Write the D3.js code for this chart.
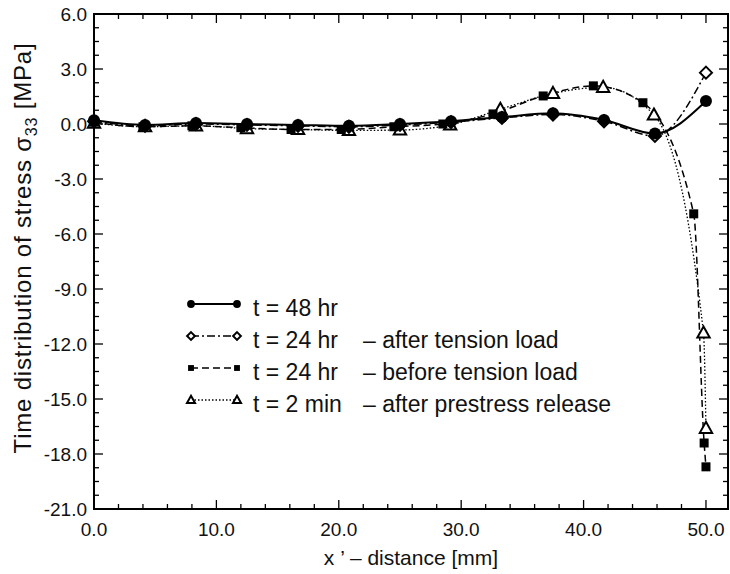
<!DOCTYPE html>
<html>
<head>
<meta charset="utf-8">
<script src="https://cdn.jsdelivr.net/npm/d3@7"></script>
<style>
  body { margin: 0; background: #fff; }
  svg { display: block; }
  text { font-family: "Liberation Sans", Arial, Helvetica, sans-serif; fill: #111; }
</style>
</head>
<body>
<svg id="chart" width="730" height="574"></svg>
<script>
// Axis ticks
const xMajorTicks = [0, 10, 20, 30, 40, 50];
const xTickLabels = ["0.0", "10.0", "20.0", "30.0", "40.0", "50.0"];
const yMajorTicks = [6, 3, 0, -3, -6, -9, -12, -15, -18, -21];
const yTickLabels = ["6.0", "3.0", "0.0", "-3.0", "-6.0", "-9.0", "-12.0", "-15.0", "-18.0", "-21.0"];

// Legend text
const seriesTimes = ["t = 48 hr", "t = 24 hr", "t = 24 hr", "t = 2 min"];
const seriesNotes = ["", "\u2013 after tension load", "\u2013 before tension load", "\u2013 after prestress release"];

// t = 48 hr
const x48h = [0, 4.17, 8.33, 12.5, 16.67, 20.83, 25.0, 29.17, 33.33, 37.5, 41.67, 45.83, 50.0];
const s48h = [0.2, -0.05, 0.05, 0.0, -0.05, -0.1, 0.0, 0.15, 0.38, 0.58, 0.22, -0.52, 1.25];

// t = 24 hr, after tension load
const x24a = [0, 4.17, 8.33, 12.5, 16.67, 20.83, 25.0, 29.17, 33.33, 37.5, 41.67, 45.83, 50.0];
const s24a = [0.15, -0.1, 0.0, -0.05, -0.1, -0.15, -0.05, 0.1, 0.33, 0.52, 0.15, -0.65, 2.8];

// t = 24 hr, before tension load
const x24b = [0, 4.0, 8.0, 12.0, 16.1, 20.2, 24.5, 28.5, 32.6, 36.7, 40.8, 44.85, 49.0, 49.85, 50.0];
const s24b = [0.1, -0.15, -0.1, -0.2, -0.3, -0.3, -0.15, 0.0, 0.55, 1.53, 2.08, 1.16, -4.9, -17.4, -18.7];

// t = 2 min, after prestress release
const x2m = [0, 4.17, 8.33, 12.5, 16.67, 20.83, 25.0, 29.1, 33.2, 37.5, 41.6, 45.75, 49.8, 50.0];
const s2m = [0.05, -0.15, -0.1, -0.25, -0.3, -0.35, -0.33, -0.05, 0.8, 1.67, 2.0, 0.49, -11.4, -16.6];

const svg = d3.select("#chart");
const plotLeft = 94, plotRight = 728, plotTop = 14, plotBottom = 509;

const x = d3.scaleLinear().domain([0, 51.8]).range([plotLeft, plotRight]);
const y = d3.scaleLinear().domain([-21, 6]).range([plotBottom, plotTop]);

// Frame
svg.append("rect")
  .attr("x", plotLeft).attr("y", plotTop)
  .attr("width", plotRight - plotLeft).attr("height", plotBottom - plotTop)
  .attr("fill", "none").attr("stroke", "#000").attr("stroke-width", 2);

// Inward ticks on all four sides
const xMinor = d3.range(0, 51.8, 2).filter(v => v % 10 !== 0);
const yMinor = d3.range(-21, 6.01, 0.75).filter(v => Math.abs(v % 3) > 1e-6);
const tickG = svg.append("g").attr("stroke", "#000").attr("stroke-width", 1.3);

function xTicks(vals, len) {
  vals.forEach(v => {
    tickG.append("line").attr("x1", x(v)).attr("x2", x(v)).attr("y1", plotBottom).attr("y2", plotBottom - len);
    tickG.append("line").attr("x1", x(v)).attr("x2", x(v)).attr("y1", plotTop).attr("y2", plotTop + len);
  });
}
function yTicks(vals, len) {
  vals.forEach(v => {
    tickG.append("line").attr("y1", y(v)).attr("y2", y(v)).attr("x1", plotLeft).attr("x2", plotLeft + len);
    tickG.append("line").attr("y1", y(v)).attr("y2", y(v)).attr("x1", plotRight).attr("x2", plotRight - len);
  });
}
xTicks(xMajorTicks, 9);
xTicks(xMinor, 5);
yTicks(yMajorTicks, 9);
yTicks(yMinor, 5);

// Tick labels
svg.append("g").selectAll("text").data(xMajorTicks).join("text")
  .attr("x", d => x(d)).attr("y", 536)
  .attr("text-anchor", "middle").attr("font-size", 19)
  .text((d, i) => xTickLabels[i]);

svg.append("g").selectAll("text").data(yMajorTicks).join("text")
  .attr("x", 87).attr("y", d => y(d) + 7)
  .attr("text-anchor", "end").attr("font-size", 19)
  .text((d, i) => yTickLabels[i]);

// Axis titles
svg.append("text")
  .attr("x", (plotLeft + plotRight) / 2).attr("y", 565)
  .attr("text-anchor", "middle").attr("font-size", 21)
  .text("x \u2019 \u2013 distance [mm]");

const yTitle = svg.append("text")
  .attr("transform", "translate(31,248) rotate(-90)")
  .attr("text-anchor", "middle").attr("font-size", 24)
  .attr("letter-spacing", 0.8);
yTitle.append("tspan").text("Time distribution of stress  \u03c3");
yTitle.append("tspan").attr("font-size", 16).attr("dy", 6).text("33");
yTitle.append("tspan").attr("dy", -6).text(" [MPa]");

// Series definitions
const series = [
  { xs: x48h, ys: s48h, dash: null, width: 2, marker: "circle" },
  { xs: x24a, ys: s24a, dash: "8,3,2,3", width: 1.5, marker: "diamond" },
  { xs: x24b, ys: s24b, dash: "7,4", width: 1.5, marker: "square" },
  { xs: x2m, ys: s2m, dash: "1.5,2", width: 1.3, marker: "triangle" }
];

const line = d3.line()
  .x(d => x(d[0])).y(d => y(d[1]))
  .curve(d3.curveMonotoneX);

function drawMarker(g, type, cx, cy, scale) {
  const k = scale || 1;
  if (type === "circle") {
    g.append("circle").attr("cx", cx).attr("cy", cy).attr("r", 6 * k).attr("fill", "#000");
  } else if (type === "square") {
    const s = 9 * k;
    g.append("rect").attr("x", cx - s / 2).attr("y", cy - s / 2).attr("width", s).attr("height", s).attr("fill", "#000");
  } else if (type === "diamond") {
    const s = 6 * k;
    g.append("path")
      .attr("d", `M${cx},${cy - s}L${cx + s},${cy}L${cx},${cy + s}L${cx - s},${cy}Z`)
      .attr("fill", "#fff").attr("stroke", "#000").attr("stroke-width", 2);
  } else if (type === "triangle") {
    const s = 6.5 * k;
    g.append("path")
      .attr("d", `M${cx},${cy - s}L${cx + s * 0.95},${cy + s * 0.7}L${cx - s * 0.95},${cy + s * 0.7}Z`)
      .attr("fill", "#fff").attr("stroke", "#000").attr("stroke-width", 2);
  }
}

const plot = svg.append("g");
// Lines first, drawn from the last series so the solid one sits on top
series.slice().reverse().forEach(s => {
  const pts = s.xs.map((v, i) => [v, s.ys[i]]);
  plot.append("path")
    .attr("d", line(pts))
    .attr("fill", "none").attr("stroke", "#000")
    .attr("stroke-width", s.width)
    .attr("stroke-dasharray", s.dash);
});
series.slice().reverse().forEach(s => {
  s.xs.forEach((v, i) => drawMarker(plot, s.marker, x(v), y(s.ys[i])));
});

// Legend
const legRowY = [304, 336, 368, 400];
const legG = svg.append("g");
series.forEach((s, i) => {
  const ly = legRowY[i];
  legG.append("line")
    .attr("x1", 191).attr("x2", 237).attr("y1", ly).attr("y2", ly)
    .attr("stroke", "#000").attr("stroke-width", s.width === 2 ? 2 : 1.3)
    .attr("stroke-dasharray", s.dash);
  drawMarker(legG, s.marker, 191, ly, 0.65);
  drawMarker(legG, s.marker, 237, ly, 0.65);
  legG.append("text").attr("x", 253).attr("y", ly + 12).attr("font-size", 23).text(seriesTimes[i]);
  if (seriesNotes[i]) {
    legG.append("text").attr("x", 363).attr("y", ly + 12).attr("font-size", 23).text(seriesNotes[i]);
  }
});
</script>
</body>
</html>
